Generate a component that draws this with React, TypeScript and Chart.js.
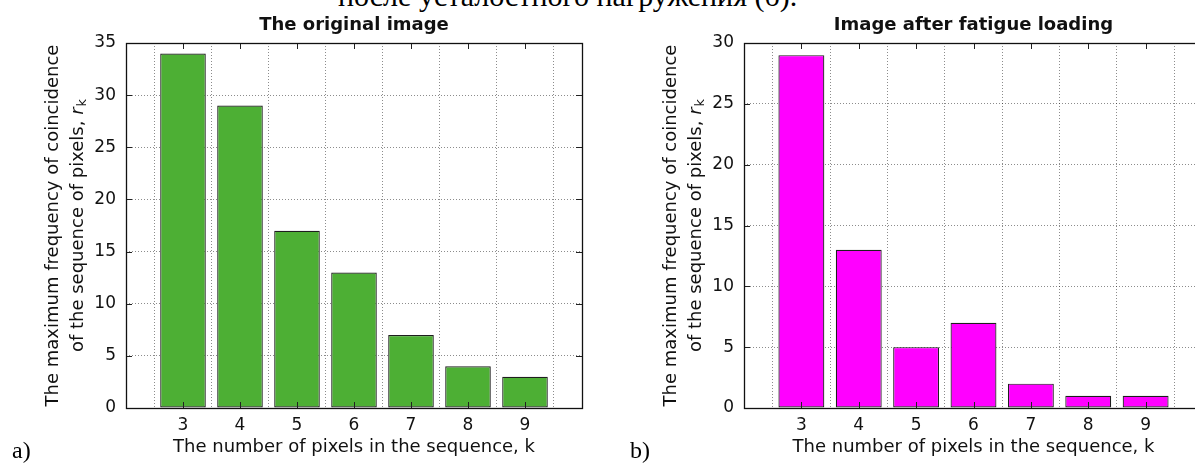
import React, { useEffect, useRef } from "react";
import { Chart, registerables } from "chart.js";

Chart.register(...registerables);

// ---- data ----
const kValues = [3, 4, 5, 6, 7, 8, 9];
const originalCounts = [34, 29, 17, 13, 7, 4, 3];
const fatigueCounts = [29, 13, 5, 7, 2, 1, 1];
const xTickLabels = ["3", "4", "5", "6", "7", "8", "9"];
const yTicksA = [0, 5, 10, 15, 20, 25, 30, 35];
const yTicksB = [0, 5, 10, 15, 20, 25, 30];
const titleA = "The original image";
const titleB = "Image after fatigue loading";
const xAxisTitle = "The number of pixels in the sequence, k";
const yTitleLine1 = "The maximum frequency of coincidence";
const yTitleLine2 = "of the sequence of pixels, ";
const yTitleSymbol = "r";
const yTitleSub = "k";
const captionTop = "после усталостного нагружения (б).";

const FONT = "'DejaVu Sans', Verdana, sans-serif";

type PanelProps = {
  left: number;
  width: number;
  yAxisWidth: number;
  rightPad: number;
  counts: number[];
  yTicks: number[];
  color: string;
  title: string;
};

const decorPlugin = {
  id: "decor",
  afterDatasetsDraw(chart: any, _args: any, opts: any) {
    const { ctx, chartArea } = chart;
    const { left, right, top, bottom } = chartArea;
    const xs = chart.scales.x;
    const ys = chart.scales.y;
    ctx.save();
    // inward tick marks
    ctx.strokeStyle = "#222";
    ctx.lineWidth = 1;
    const tl = 6;
    ctx.beginPath();
    for (const k of kValues) {
      const px = Math.round(xs.getPixelForValue(k)) + 0.5;
      ctx.moveTo(px, bottom);
      ctx.lineTo(px, bottom - tl);
      ctx.moveTo(px, top);
      ctx.lineTo(px, top + tl);
    }
    for (const v of opts.yTicks as number[]) {
      const py = Math.round(ys.getPixelForValue(v)) + 0.5;
      ctx.moveTo(left, py);
      ctx.lineTo(left + tl, py);
      ctx.moveTo(right, py);
      ctx.lineTo(right - tl, py);
    }
    ctx.stroke();
    // frame
    ctx.strokeStyle = "#111";
    ctx.lineWidth = 1.3;
    ctx.strokeRect(Math.round(left) + 0.5, Math.round(top) + 0.5, Math.round(right - left), Math.round(bottom - top));
    ctx.restore();
  },
  afterDraw(chart: any, _args: any, opts: any) {
    const { ctx, chartArea } = chart;
    const { left, right, top, bottom } = chartArea;
    const cx = (left + right) / 2;
    const cy = (top + bottom) / 2;
    ctx.save();
    ctx.fillStyle = "#111";
    // title
    ctx.font = `bold 18px ${FONT}`;
    ctx.textAlign = "center";
    ctx.textBaseline = "alphabetic";
    ctx.fillText(opts.title, cx, top - 13);
    // x axis title
    ctx.font = `18px ${FONT}`;
    ctx.fillText(xAxisTitle, cx, bottom + 44);
    // y axis title (rotated)
    ctx.translate(left - 73, cy);
    ctx.rotate(-Math.PI / 2);
    ctx.textBaseline = "middle";
    ctx.textAlign = "center";
    ctx.font = `18px ${FONT}`;
    ctx.fillText(yTitleLine1, 0, 0);
    // second line with italic r and subscript k
    const mainFont = `18px ${FONT}`;
    const italFont = `italic 18px ${FONT}`;
    const subFont = `13px ${FONT}`;
    ctx.font = mainFont;
    const w1 = ctx.measureText(yTitleLine2).width;
    ctx.font = italFont;
    const w2 = ctx.measureText(yTitleSymbol).width;
    ctx.font = subFont;
    const w3 = ctx.measureText(yTitleSub).width;
    const total = w1 + w2 + 1 + w3;
    let x = -total / 2;
    const y2 = 25;
    ctx.textAlign = "left";
    ctx.font = mainFont;
    ctx.fillText(yTitleLine2, x, y2);
    x += w1;
    ctx.font = italFont;
    ctx.fillText(yTitleSymbol, x, y2);
    x += w2 + 1;
    ctx.font = subFont;
    ctx.fillText(yTitleSub, x, y2 + 5);
    ctx.restore();
  },
};

function Panel(props: PanelProps) {
  const ref = useRef<HTMLCanvasElement | null>(null);
  useEffect(() => {
    if (!ref.current) return;
    const yMax = props.yTicks[props.yTicks.length - 1];
    const gridCommon = {
      color: "rgba(0,0,0,0.45)",
      lineWidth: 1,
      drawTicks: false,
    };
    const chart = new Chart(ref.current, {
      type: "bar",
      data: {
        datasets: [
          {
            data: kValues.map((k, i) => ({ x: k, y: props.counts[i] })),
            backgroundColor: props.color,
            borderColor: "#1e1e1e",
            borderWidth: 1.2,
            borderSkipped: false,
            barPercentage: 0.8,
            categoryPercentage: 1.0,
          },
        ],
      },
      options: {
        animation: false,
        responsive: false,
        maintainAspectRatio: false,
        devicePixelRatio: 1,
        layout: { padding: { top: 43, right: props.rightPad, left: 0, bottom: 0 } },
        plugins: {
          legend: { display: false },
          tooltip: { enabled: false },
          title: { display: false },
          decor: { title: props.title, yTicks: props.yTicks },
        } as any,
        scales: {
          x: {
            type: "linear",
            min: 2,
            max: 10,
            offset: false,
            grid: { ...gridCommon } as any,
            border: { display: false, dash: [1, 2] } as any,
            ticks: {
              stepSize: 1,
              autoSkip: false,
              maxRotation: 0,
              padding: 7,
              color: "#111",
              font: { family: FONT, size: 17 },
              callback: (v: any) => {
                const idx = kValues.indexOf(Number(v));
                return idx >= 0 ? xTickLabels[idx] : "";
              },
            },
            afterFit: (scale: any) => {
              scale.height = 55;
            },
          },
          y: {
            type: "linear",
            min: 0,
            max: yMax,
            grid: { ...gridCommon } as any,
            border: { display: false, dash: [1, 2] } as any,
            ticks: {
              stepSize: 5,
              padding: 10,
              color: "#111",
              font: { family: FONT, size: 17 },
            },
            afterFit: (scale: any) => {
              scale.width = props.yAxisWidth;
            },
          },
        },
      },
      plugins: [decorPlugin],
    } as any);
    return () => chart.destroy();
  }, []);
  return (
    <canvas
      ref={ref}
      width={props.width}
      height={463}
      style={{ position: "absolute", left: props.left, top: 0, width: props.width, height: 463 }}
    />
  );
}

export default function App() {
  return (
    <div
      style={{
        position: "fixed",
        left: 0,
        top: 0,
        width: 1195,
        height: 463,
        overflow: "hidden",
        background: "#fff",
      }}
    >
      <div
        style={{
          position: "absolute",
          left: 338,
          top: -19,
          fontFamily: "'Liberation Serif', 'Times New Roman', serif",
          fontSize: 30,
          lineHeight: "30px",
          whiteSpace: "nowrap",
          color: "#000",
        }}
      >
        {captionTop}
      </div>
      <Panel
        left={0}
        width={600}
        yAxisWidth={126}
        rightPad={18}
        counts={originalCounts}
        yTicks={yTicksA}
        color="#4daf34"
        title={titleA}
      />
      <Panel
        left={600}
        width={620}
        yAxisWidth={144}
        rightPad={17}
        counts={fatigueCounts}
        yTicks={yTicksB}
        color="#ff00ff"
        title={titleB}
      />
      <div
        style={{
          position: "absolute",
          left: 12,
          top: 438,
          fontFamily: "'Liberation Serif', 'Times New Roman', serif",
          fontSize: 24,
          lineHeight: "24px",
          color: "#000",
        }}
      >
        a)
      </div>
      <div
        style={{
          position: "absolute",
          left: 630,
          top: 438,
          fontFamily: "'Liberation Serif', 'Times New Roman', serif",
          fontSize: 24,
          lineHeight: "24px",
          color: "#000",
        }}
      >
        b)
      </div>
    </div>
  );
}
